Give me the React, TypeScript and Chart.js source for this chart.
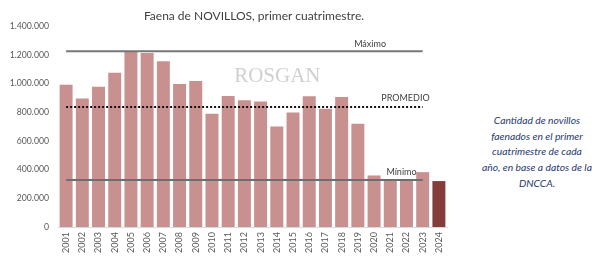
import React, { useEffect, useRef } from "react";
import { Chart, registerables } from "chart.js";

Chart.register(...registerables);

const years = ["2001","2002","2003","2004","2005","2006","2007","2008","2009","2010","2011","2012","2013","2014","2015","2016","2017","2018","2019","2020","2021","2022","2023","2024"];
const faena = [990000,895000,977000,1075000,1225000,1212000,1154000,996000,1017000,789000,912000,882000,875000,700000,798000,910000,824000,905000,720000,359000,328000,330000,382000,320000];
const maximoValue = 1225000;
const promedioValue = 835000;
const minimoValue = 328000;
const yTicks = [0,200000,400000,600000,800000,1000000,1200000,1400000];
const titleText = "Faena de NOVILLOS, primer cuatrimestre.";
const noteLines = ["Cantidad de novillos", "faenados en el primer", "cuatrimestre de cada", "año, en base a datos de la", "DNCCA."];

const refLine = (v: number) => years.map((_, i) => (i < years.length - 1 ? v : null));

const FONT = "Lato, 'Open Sans', sans-serif";

export default function App() {
  const ref = useRef<HTMLCanvasElement | null>(null);
  useEffect(() => {
    if (!ref.current) return;
    const labelsPlugin = {
      id: "refLabels",
      afterDatasetsDraw(chart: any) {
        const { ctx, scales } = chart;
        const x = scales.x, y = scales.y;
        ctx.save();
        ctx.font = "9px " + FONT;
        ctx.fillStyle = "#404040";
        ctx.textAlign = "center";
        ctx.textBaseline = "bottom";
        ctx.fillText("Máximo", x.getPixelForValue(19) - 4, y.getPixelForValue(maximoValue) - 3);
        ctx.fillText("PROMEDIO", x.getPixelForValue(21) - 1, y.getPixelForValue(promedioValue) - 5);
        ctx.fillText("Mínimo", x.getPixelForValue(21) - 5, y.getPixelForValue(minimoValue) - 3);
        // watermark
        ctx.font = "21px 'Liberation Serif', 'DejaVu Serif', serif";
        ctx.fillStyle = "rgba(200,200,200,0.85)";
        ctx.textAlign = "left";
        ctx.textBaseline = "middle";
        ctx.fillText("ROSGAN", x.getPixelForValue(10) + 6, y.getPixelForValue(1050000));
        ctx.restore();
      },
    };
    const chart = new Chart(ref.current, {
      type: "bar",
      data: {
        labels: years,
        datasets: [
          {
            type: "line" as const,
            data: refLine(maximoValue),
            borderColor: "#767676",
            borderWidth: 2,
            pointRadius: 0,
            fill: false,
            order: 0,
          },
          {
            type: "line" as const,
            data: refLine(promedioValue),
            borderColor: "#111111",
            borderWidth: 2,
            borderDash: [2, 2],
            pointRadius: 0,
            fill: false,
            order: 0,
          },
          {
            type: "line" as const,
            data: refLine(minimoValue),
            borderColor: "#6e6e6e",
            borderWidth: 2,
            pointRadius: 0,
            fill: false,
            order: 0,
          },
          {
            type: "bar" as const,
            data: faena,
            backgroundColor: faena.map((_, i) => (i === faena.length - 1 ? "#853d3c" : "#c8908e")),
            categoryPercentage: 1,
            barPercentage: 0.8,
            order: 1,
          },
        ],
      },
      options: {
        responsive: false,
        animation: false,
        layout: { padding: { top: 26, right: 13, left: 0, bottom: 0 } },
        plugins: { legend: { display: false }, tooltip: { enabled: false }, title: { display: false } },
        scales: {
          x: {
            grid: { display: false, drawTicks: false },
            border: { display: true, color: "#d9d9d9", width: 1 },
            ticks: { color: "#595959", font: { size: 9, family: FONT }, minRotation: 90, maxRotation: 90, padding: 5 },
            afterFit(s: any) { s.height = 36; },
          },
          y: {
            min: 0,
            max: 1400000,
            afterBuildTicks(s: any) { s.ticks = yTicks.map((v) => ({ value: v })); },
            grid: { display: false, drawTicks: false },
            border: { display: false },
            ticks: {
              color: "#595959",
              font: { size: 8.7, family: FONT },
              padding: 9,
              callback: (v: any) => Number(v).toLocaleString("de-DE"),
            },
            afterFit(s: any) { s.width = 58; },
          },
        },
      },
      plugins: [labelsPlugin],
    } as any);
    return () => chart.destroy();
  }, []);

  return (
    <div style={{ position: "fixed", left: 0, top: 0, width: 602, height: 263, background: "#fff", overflow: "hidden" }}>
      <canvas ref={ref} width={460} height={263} style={{ position: "absolute", left: 0, top: 0 }} />
      <div style={{ position: "absolute", left: 104, top: 8, width: 300, textAlign: "center", fontFamily: FONT, fontSize: 12, color: "#404040" }}>
        {titleText}
      </div>
      <div style={{ position: "absolute", left: 469, top: 113, width: 136, textAlign: "center", fontFamily: FONT, fontStyle: "italic", fontSize: 10.3, lineHeight: "15.7px", color: "#1f3872" }}>
        {noteLines.map((l, i) => (<div key={i}>{l}</div>))}
      </div>
    </div>
  );
}
